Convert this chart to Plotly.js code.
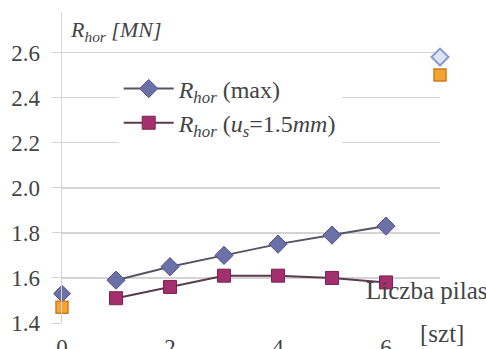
<!DOCTYPE html>
<html><head><meta charset="utf-8">
<script src="https://cdn.plot.ly/plotly-3.0.1.min.js"></script>
<style>html,body{margin:0;padding:0;background:#fff;}#c{width:486px;height:349px;}</style>
</head><body><div id="c"></div>
<script>
const piles = [1, 2, 3, 4, 5, 6];
const rMax = [1.59, 1.65, 1.70, 1.75, 1.79, 1.83];
const rU15 = [1.51, 1.56, 1.61, 1.61, 1.60, 1.58];
const refX = [0];
const refMax0 = [1.53];
const refU0 = [1.47];
const extX = [7];
const extMax = [2.58];
const extU = [2.50];
const xTicks = [0, 2, 4, 6];
const yTicks = [1.4, 1.6, 1.8, 2.0, 2.2, 2.4, 2.6];

const serif = 'Liberation Serif';
const traces = [
  {x: piles, y: rMax, mode: 'lines+markers', name: '<i>R</i><sub><i>hor</i></sub> (max)', cliponaxis: false,
   legendgroup: 'a',
   line: {color: '#555566', width: 2},
   marker: {symbol: 'diamond', size: 14, color: '#6b70a6', line: {color: '#4f5488', width: 1}}},
  {x: piles, y: rU15, mode: 'lines+markers', name: '<i>R</i><sub><i>hor</i></sub> (<i>u</i><sub><i>s</i></sub>=1.5<i>mm</i>)', cliponaxis: false,
   legendgroup: 'b',
   line: {color: '#5a3a4c', width: 2},
   marker: {symbol: 'square', size: 13, color: '#a32f6c', line: {color: '#7e2152', width: 1}}},
  {x: refX, y: refMax0, mode: 'markers', showlegend: false, cliponaxis: false,
   marker: {symbol: 'diamond', size: 13, color: '#6b70a6', line: {color: '#4f5488', width: 1}}},
  {x: refX, y: refU0, mode: 'markers', showlegend: false, cliponaxis: false,
   marker: {symbol: 'square', size: 12, color: '#f3a531', line: {color: '#d47a1c', width: 1.5}}},
  {x: extX, y: extMax, mode: 'markers', showlegend: false, cliponaxis: false,
   marker: {symbol: 'diamond', size: 13, color: '#dfe4f4', line: {color: '#8a9ad0', width: 2}}},
  {x: extX, y: extU, mode: 'markers', showlegend: false, cliponaxis: false,
   marker: {symbol: 'square', size: 12, color: '#f3a531', line: {color: '#d47a1c', width: 1.5}}}
];

const layout = {
  width: 486, height: 349,
  margin: {l: 62, r: 46, t: 12, b: 26},
  paper_bgcolor: '#fff', plot_bgcolor: '#fff',
  font: {family: serif, color: '#444', size: 20},
  showlegend: true,
  legend: {x: 0.15, y: 0.825, xanchor: 'left', yanchor: 'top', bgcolor: '#fff',
    font: {family: serif, size: 24, color: '#444'}, itemwidth: 50, tracegroupgap: 0},
  xaxis: {range: [0, 7], tickvals: xTicks, ticktext: xTicks.map(String),
    showgrid: false, zeroline: false, showline: false, ticks: '', ticklabelstandoff: 8,
    tickfont: {family: serif, size: 23, color: '#444'}},
  yaxis: {range: [1.4, 2.78], tickvals: yTicks, ticktext: yTicks.map(v => v.toFixed(1)),
    showgrid: true, gridcolor: '#d4d4d4', gridwidth: 1.5, zeroline: false,
    showline: true, linecolor: '#d4d4d4', linewidth: 1.5,
    ticks: 'outside', ticklen: 9, tickcolor: '#d4d4d4', ticklabelstandoff: 7,
    tickfont: {family: serif, size: 23, color: '#444'}},
  annotations: [
    {xref: 'paper', yref: 'paper', x: 0.015, y: 0.94, xanchor: 'left', yanchor: 'middle', showarrow: false,
     text: '<i>R</i><sub><i>hor</i></sub><i> [MN]</i>', font: {family: serif, size: 22, color: '#444'}},
    {xref: 'paper', yref: 'paper', x: 1.13, y: 0.105, xanchor: 'right', yanchor: 'middle', showarrow: false,
     text: 'Liczba pilas', font: {family: serif, size: 25, color: '#444'}},
    {xref: 'paper', yref: 'paper', x: 1.07, y: -0.035, xanchor: 'right', yanchor: 'middle', showarrow: false,
     text: '[szt]', font: {family: serif, size: 25, color: '#444'}}
  ]
};
Plotly.newPlot('c', traces, layout, {displayModeBar: false, staticPlot: true});
</script></body></html>
